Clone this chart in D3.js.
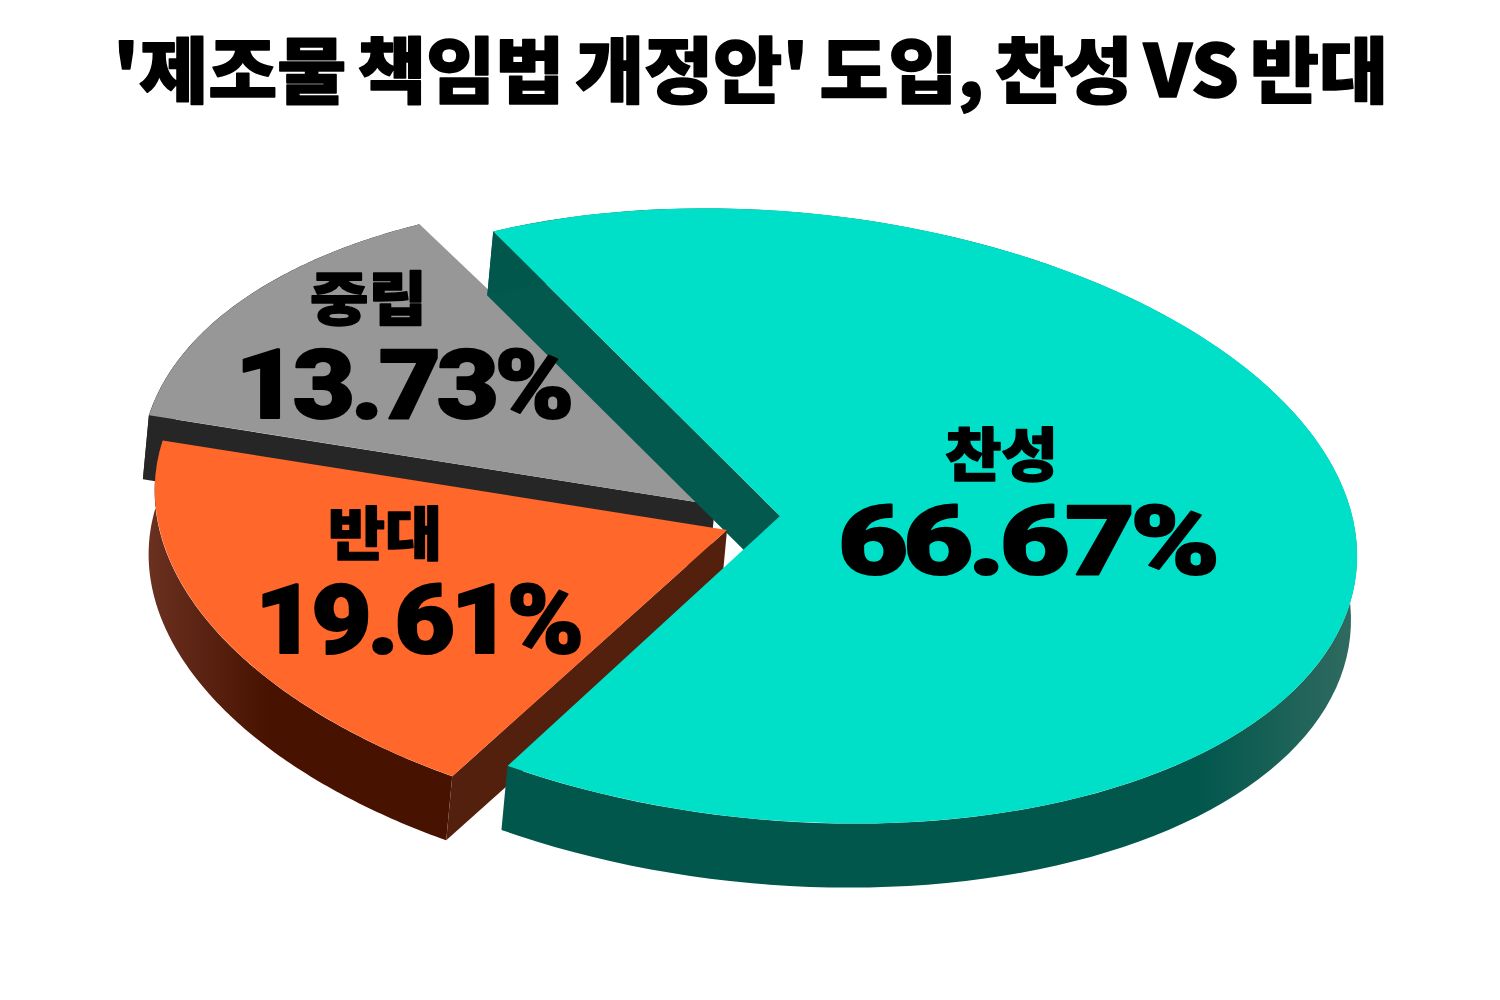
<!DOCTYPE html>
<html>
<head>
<meta charset="utf-8">
<script src="https://cdn.jsdelivr.net/npm/d3@7"></script>
<style>
  html, body { margin: 0; background: #fff; }
  text { font-family: 'Noto Sans CJK KR', sans-serif; font-weight: 900; fill: #000; }
</style>
</head>
<body>
<svg id="chart" width="1500" height="1000"></svg>
<script>
const titleText = "'제조물 책임법 개정안' 도입, 찬성 VS 반대";
const categories = ['찬성', '반대', '중립'];
const shares = [66.67, 19.61, 13.73];

const topColors = ['#00e0c8', '#ff672b', '#979797'];
const edgeColors = ['#03594e', '#52200c', '#262626'];
const rimColors = [['#02574d', '#2f6a60'], ['#6a3020', '#471200'], ['#262626', '#262626']];
const rimRanges = [[1200, 1350], [150, 270], [140, 300]];
const origins = [[780, 516], [727, 530], [715, 505]];
const radii = [1, 0.992, 0.995];
// the source picture's teal wedge is drawn a little short of its share
const trims = [[1.2, -0.8], [-0.3, 0], [0, 0]];
const labelBoxes = [
  { name: [945, 1058, 476], pct: [838, 1215, 574] },
  { name: [328, 442, 555], pct: [255, 580, 653] },
  { name: [310, 427, 320], pct: [235, 570, 418] },
];

// flattened, tilted disc: unit circle onto the screen
const rx = 577, ry = 305, skew = 40;
const depth = [-6, 64];
const startDeg = -31;

const svg = d3.select('#chart');
const defs = svg.append('defs');

const rad = Math.PI / 180;
const pie = d3.pie().sort(null)
  .startAngle(startDeg * rad)
  .endAngle(startDeg * rad + 2 * Math.PI);
const slices = pie(shares).map((s, i) => ({
  ...s,
  startAngle: s.startAngle + trims[i][0] * rad,
  endAngle: s.endAngle + trims[i][1] * rad,
}));
const arc = d3.arc().innerRadius(0).outerRadius(d => radii[d.index]);

const project = (i, angle, r = radii[i], down = false) => {
  const u = Math.sin(angle) * r, v = -Math.cos(angle) * r;
  return [
    origins[i][0] + rx * u + (down ? depth[0] : 0),
    origins[i][1] + skew * u + ry * v + (down ? depth[1] : 0),
  ];
};

const line = d3.line();

rimColors.forEach((c, i) => {
  const g = defs.append('linearGradient')
    .attr('id', `rim${i}`)
    .attr('gradientUnits', 'userSpaceOnUse')
    .attr('x1', rimRanges[i][0]).attr('x2', rimRanges[i][1])
    .attr('y1', 0).attr('y2', 0);
  g.append('stop').attr('offset', 0).attr('stop-color', c[0]);
  g.append('stop').attr('offset', 1).attr('stop-color', c[1]);
});

const drawRim = (i) => {
  const s = slices[i];
  const angles = d3.range(0, 121).map(k => s.startAngle + (s.endAngle - s.startAngle) * k / 120);
  const pts = angles.map(a => project(i, a))
    .concat(angles.slice().reverse().map(a => project(i, a, radii[i], true)));
  svg.append('path').attr('d', line(pts) + 'Z').attr('fill', `url(#rim${i})`);
};

// cut face of a slice, along one of its radial edges
const drawEdge = (i, angle, color) => {
  const pts = [
    project(i, angle, 0), project(i, angle),
    project(i, angle, radii[i], true), project(i, angle, 0, true),
  ];
  svg.append('path').attr('d', line(pts) + 'Z').attr('fill', color);
};

const drawTop = (i) => {
  const [x, y] = origins[i];
  svg.append('path')
    .attr('d', arc(slices[i]))
    .attr('transform', `matrix(${rx},${skew},0,${ry},${x},${y})`)
    .attr('fill', topColors[i]);
};

// back to front: grey, teal's cut face, orange, then teal
drawRim(2);
drawEdge(2, slices[2].startAngle, edgeColors[2]);
drawTop(2);
drawEdge(0, slices[0].startAngle, edgeColors[0]);
drawRim(1);
drawEdge(1, slices[1].startAngle, edgeColors[1]);
drawTop(1);
drawRim(0);
drawTop(0);

const fitText = (str, x0, x1, base, size, sw, opts = {}) => {
  const t = svg.append('text')
    .attr('x', x0).attr('y', base)
    .attr('font-size', size)
    .attr('textLength', x1 - x0)
    .attr('lengthAdjust', 'spacingAndGlyphs')
    .attr('stroke', '#000').attr('stroke-width', sw)
    .attr('stroke-linejoin', 'round')
    .text(str);
  if (opts.family) t.style('font-family', opts.family);
  if (opts.letter) t.style('letter-spacing', `${opts.letter}px`);
  if (opts.word) t.style('word-spacing', `${opts.word}px`);
  return t;
};

fitText(titleText, 113, 1388, 97, 72, 1.5, { word: -6 });

categories.forEach((c, i) => {
  const b = labelBoxes[i];
  fitText(c, b.name[0], b.name[1], b.name[2], 58, 1.5);
  fitText(`${shares[i].toFixed(2)}%`, b.pct[0], b.pct[1], b.pct[2], 96, 2,
    { family: 'Roboto, sans-serif', letter: -4 });
});
</script>
</body>
</html>
